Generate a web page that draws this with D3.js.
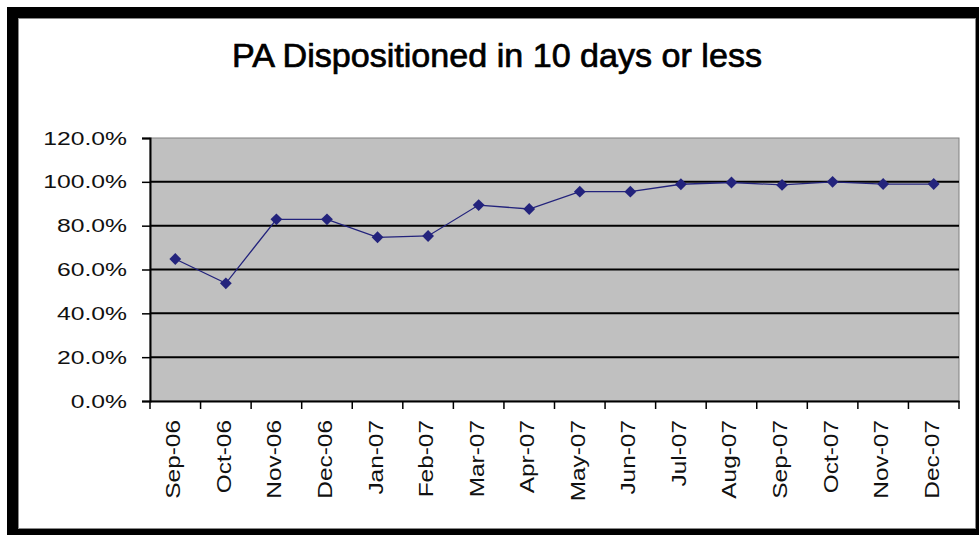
<!DOCTYPE html>
<html>
<head>
<meta charset="utf-8">
<script src="https://cdn.jsdelivr.net/npm/d3@7"></script>
<style>
  body { margin: 0; background: #fff; }
  text { font-family: "Liberation Sans", Arial, sans-serif; }
</style>
</head>
<body>
<div id="chart-area"></div>
<script>
// data
var months = ["Sep-06","Oct-06","Nov-06","Dec-06","Jan-07","Feb-07","Mar-07","Apr-07",
              "May-07","Jun-07","Jul-07","Aug-07","Sep-07","Oct-07","Nov-07","Dec-07"];
var pctDone = [0.648, 0.537, 0.829, 0.829, 0.747, 0.753, 0.894, 0.876,
               0.955, 0.955, 0.989, 0.997, 0.986, 1.0, 0.990, 0.990];
var yTicks = [0, 0.2, 0.4, 0.6, 0.8, 1.0, 1.2];
var title = "PA Dispositioned in 10 days or less";

var W = 979, H = 535;
var plot = {left: 150, right: 959, top: 138, bottom: 401};

var svg = d3.select("#chart-area").append("svg")
	.attr("width", W)
	.attr("height", H);

// frame
svg.append("rect").attr("x", 7).attr("y", 7).attr("width", W).attr("height", H).attr("fill", "#000");
svg.append("rect").attr("x", 18.5).attr("y", 18.5).attr("width", 957).attr("height", 510)
	.attr("fill", "#fff").attr("stroke", "#8a8a8a").attr("stroke-width", 1);

// stretch text along its own direction (the fonts in the picture are wide)
function widen(sel, k) {
	sel.each(function() {
		var len = this.getComputedTextLength();
		this.setAttribute("textLength", len * k);
		this.setAttribute("lengthAdjust", "spacingAndGlyphs");
	});
}

var x = d3.scaleBand().domain(months).range([plot.left, plot.right]);
var y = d3.scaleLinear().domain([0, 1.2]).range([plot.bottom, plot.top]);

// plot area
svg.append("rect")
	.attr("x", plot.left).attr("y", plot.top)
	.attr("width", plot.right - plot.left).attr("height", plot.bottom - plot.top)
	.attr("fill", "#c0c0c0").attr("stroke", "#808080");

// gridlines
svg.selectAll(".grid")
	.data(yTicks.filter(function(d){ return d > 0 && d < 1.2; }))
	.enter().append("line")
	.attr("class", "grid")
	.attr("x1", plot.left).attr("x2", plot.right)
	.attr("y1", function(d){ return y(d); })
	.attr("y2", function(d){ return y(d); })
	.attr("stroke", "#000").attr("stroke-width", 2);

// y axis
var yAxis = svg.append("g")
	.attr("transform", "translate(" + plot.left + ",0)")
	.call(d3.axisLeft(y).tickValues(yTicks).tickFormat(d3.format(".1%")).tickSize(8).tickPadding(15));
yAxis.select(".domain").attr("stroke", "#000").attr("stroke-width", 2);
yAxis.selectAll(".tick line").attr("stroke", "#000").attr("stroke-width", 1.5);
yAxis.selectAll("text").attr("font-size", 19).attr("fill", "#111")
	.attr("font-family", "Liberation Sans, Arial, sans-serif");
widen(yAxis.selectAll("text"), 1.3);

// x axis
var xAxis = svg.append("g")
	.attr("transform", "translate(0," + plot.bottom + ")")
	.call(d3.axisBottom(x).tickSize(0).tickSizeOuter(0));
xAxis.select(".domain").attr("stroke", "#000").attr("stroke-width", 2);
xAxis.selectAll("text")
	.attr("font-size", 20).attr("fill", "#111")
	.attr("font-family", "Liberation Sans, Arial, sans-serif")
	.attr("text-anchor", "end")
	.attr("transform", "rotate(-90)")
	.attr("x", -19).attr("y", 0).attr("dy", 5);
widen(xAxis.selectAll("text"), 1.22);

// tick marks between categories
var edges = months.map(function(m){ return x(m); }).concat([plot.right]);
svg.selectAll(".xtick")
	.data(edges)
	.enter().append("line")
	.attr("class", "xtick")
	.attr("x1", function(d){ return d; }).attr("x2", function(d){ return d; })
	.attr("y1", plot.bottom).attr("y2", plot.bottom + 8)
	.attr("stroke", "#000").attr("stroke-width", 1.5);

// series
var line = d3.line()
	.x(function(d, i){ return x(months[i]) + x.bandwidth() / 2; })
	.y(function(d){ return y(d); });

svg.append("path")
	.datum(pctDone)
	.attr("d", line)
	.attr("fill", "none")
	.attr("stroke", "#23237c")
	.attr("stroke-width", 1.3);

svg.selectAll(".dot")
	.data(pctDone)
	.enter().append("path")
	.attr("class", "dot")
	.attr("d", d3.symbol().type(d3.symbolSquare).size(70))
	.attr("transform", function(d, i){
		return "translate(" + (x(months[i]) + x.bandwidth() / 2) + "," + y(d) + ") rotate(45)";
	})
	.attr("fill", "#23237c");

// title
var t = svg.append("text")
	.attr("x", 497).attr("y", 67)
	.attr("text-anchor", "middle")
	.attr("font-size", 33)
	.attr("fill", "#000")
	.attr("stroke", "#000")
	.attr("stroke-width", 0.7)
	.text(title);
t.attr("textLength", 530).attr("lengthAdjust", "spacingAndGlyphs");
</script>
</body>
</html>
